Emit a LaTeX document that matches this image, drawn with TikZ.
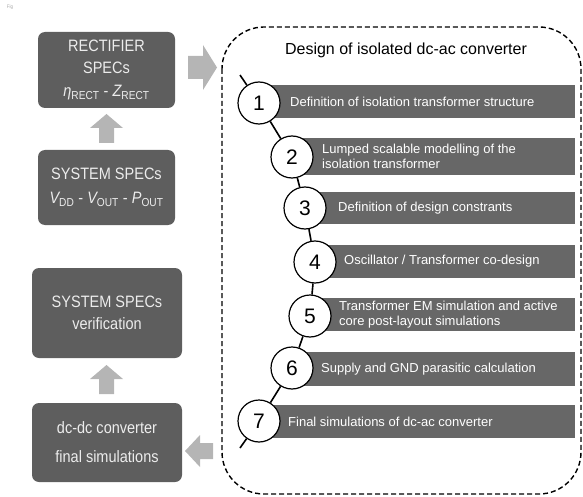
\documentclass[tikz,border=0pt]{standalone}
\usepackage{fontspec}
\setmainfont{Liberation Sans}[FakeStretch=0.88]
\newfontfamily\widesans{Liberation Sans}
\definecolor{boxgray}{HTML}{5E5E5E}
\definecolor{bargray}{HTML}{676767}
\definecolor{arrgray}{HTML}{B5B5B5}
\definecolor{boxtext}{HTML}{ECECEC}
\begin{document}
\begin{tikzpicture}[x=1pt,y=-1pt,
  sbox/.style={fill=boxgray, rounded corners=7pt, text=boxtext, align=center, inner sep=0pt},
  bigtxt/.style={font=\fontsize{16.5}{22}\selectfont},
  stepcirc/.style={circle, draw=black, fill=white, line width=1.2pt, minimum size=42pt, inner sep=0pt, font=\widesans\fontsize{21}{21}\selectfont},
  barfill/.style={fill=bargray},
  bartext/.style={anchor=west, text=white, align=left, inner sep=0pt, font=\widesans\fontsize{13}{14.5}\selectfont},
  blockarrow/.style={fill=arrgray, draw=none},
  chain/.style={line width=1.6pt, draw=black}
]
\useasboundingbox (0,0) rectangle (583,497);

% tiny label
\node[text=gray!70, font=\fontsize{5}{5}\selectfont, inner sep=0pt] (fig) at (10,7) {Fig};

% left boxes
\node[sbox, bigtxt, minimum width=137pt, minimum height=76pt] (rect) at (106.5,70)
  {RECTIFIER\\SPECs\\[1pt]{\itshape η}\textsubscript{RECT} - {\itshape Z}\textsubscript{RECT}};
\node[sbox, bigtxt, minimum width=137pt, minimum height=75pt] (sys) at (106.5,187.5)
  {SYSTEM SPECs\\[2pt]{\itshape V}\textsubscript{DD} - {\itshape V}\textsubscript{OUT} - {\itshape P}\textsubscript{OUT}};
\node[sbox, bigtxt, minimum width=150pt, minimum height=90pt, font=\fontsize{16.5}{22}\selectfont] (ver) at (107,313)
  {SYSTEM SPECs\\verification};
\node[sbox, bigtxt, minimum width=150pt, minimum height=79pt, font=\fontsize{16.5}{29}\selectfont] (dcdc) at (107,442.5)
  {dc-dc converter\\final simulations};

% block arrows
\fill[blockarrow] (99,143) -- (99,128) -- (90,128) -- (106.5,114) -- (123,128) -- (114,128) -- (114,143) -- cycle;
\fill[blockarrow] (99,394) -- (99,379) -- (90,379) -- (106.5,365) -- (123,379) -- (114,379) -- (114,394) -- cycle;
\fill[blockarrow] (188,56) -- (203,56) -- (203,45) -- (217,67.5) -- (203,90) -- (203,79) -- (188,79) -- cycle;
\fill[blockarrow] (213,443) -- (200,443) -- (200,435) -- (185,451) -- (200,467) -- (200,459) -- (213,459) -- cycle;

% dashed frame
\draw[line width=1.4pt, dash pattern=on 5pt off 3pt, rounded corners=42pt] (222,27) rectangle (581,494);
\node[font=\widesans\fontsize{16}{16}\selectfont, inner sep=0pt] (title) at (406,50) {Design of isolated dc-ac converter};

% bars
\fill[barfill] (259,85) rectangle (575,118);
\fill[barfill] (292,138) rectangle (575,175);
\fill[barfill] (305,192) rectangle (575,224);
\fill[barfill] (315,245) rectangle (575,278);
\fill[barfill] (310,298) rectangle (575,331);
\fill[barfill] (292,352) rectangle (575,386);
\fill[barfill] (259,405) rectangle (575,438);

\node[bartext] (t1) at (290,101.5) {Definition of isolation transformer structure};
\node[bartext] (t2) at (322,156.5) {Lumped scalable modelling of the\\isolation transformer};
\node[bartext] (t3) at (338,208) {Definition of design constrants};
\node[bartext] (t4) at (344,261.5) {Oscillator / Transformer co-design};
\node[bartext] (t5) at (339,314.5) {Transformer EM simulation and active\\core post-layout simulations};
\node[bartext] (t6) at (321,369) {Supply and GND parasitic calculation};
\node[bartext] (t7) at (288,421.5) {Final simulations of dc-ac converter};

% circles
\node[stepcirc] (c1) at (259,103) {1};
\node[stepcirc] (c2) at (292,157) {2};
\node[stepcirc] (c3) at (305,208) {3};
\node[stepcirc] (c4) at (315,262) {4};
\node[stepcirc] (c5) at (310,316) {5};
\node[stepcirc] (c6) at (292,368) {6};
\node[stepcirc] (c7) at (259,421) {7};

\coordinate (s0) at (240,75);
\coordinate (s1) at (240,448);
\draw[chain] (s0) -- (c1) -- (c2) -- (c3) -- (c4) -- (c5) -- (c6) -- (c7) -- (s1);
\end{tikzpicture}
\end{document}
